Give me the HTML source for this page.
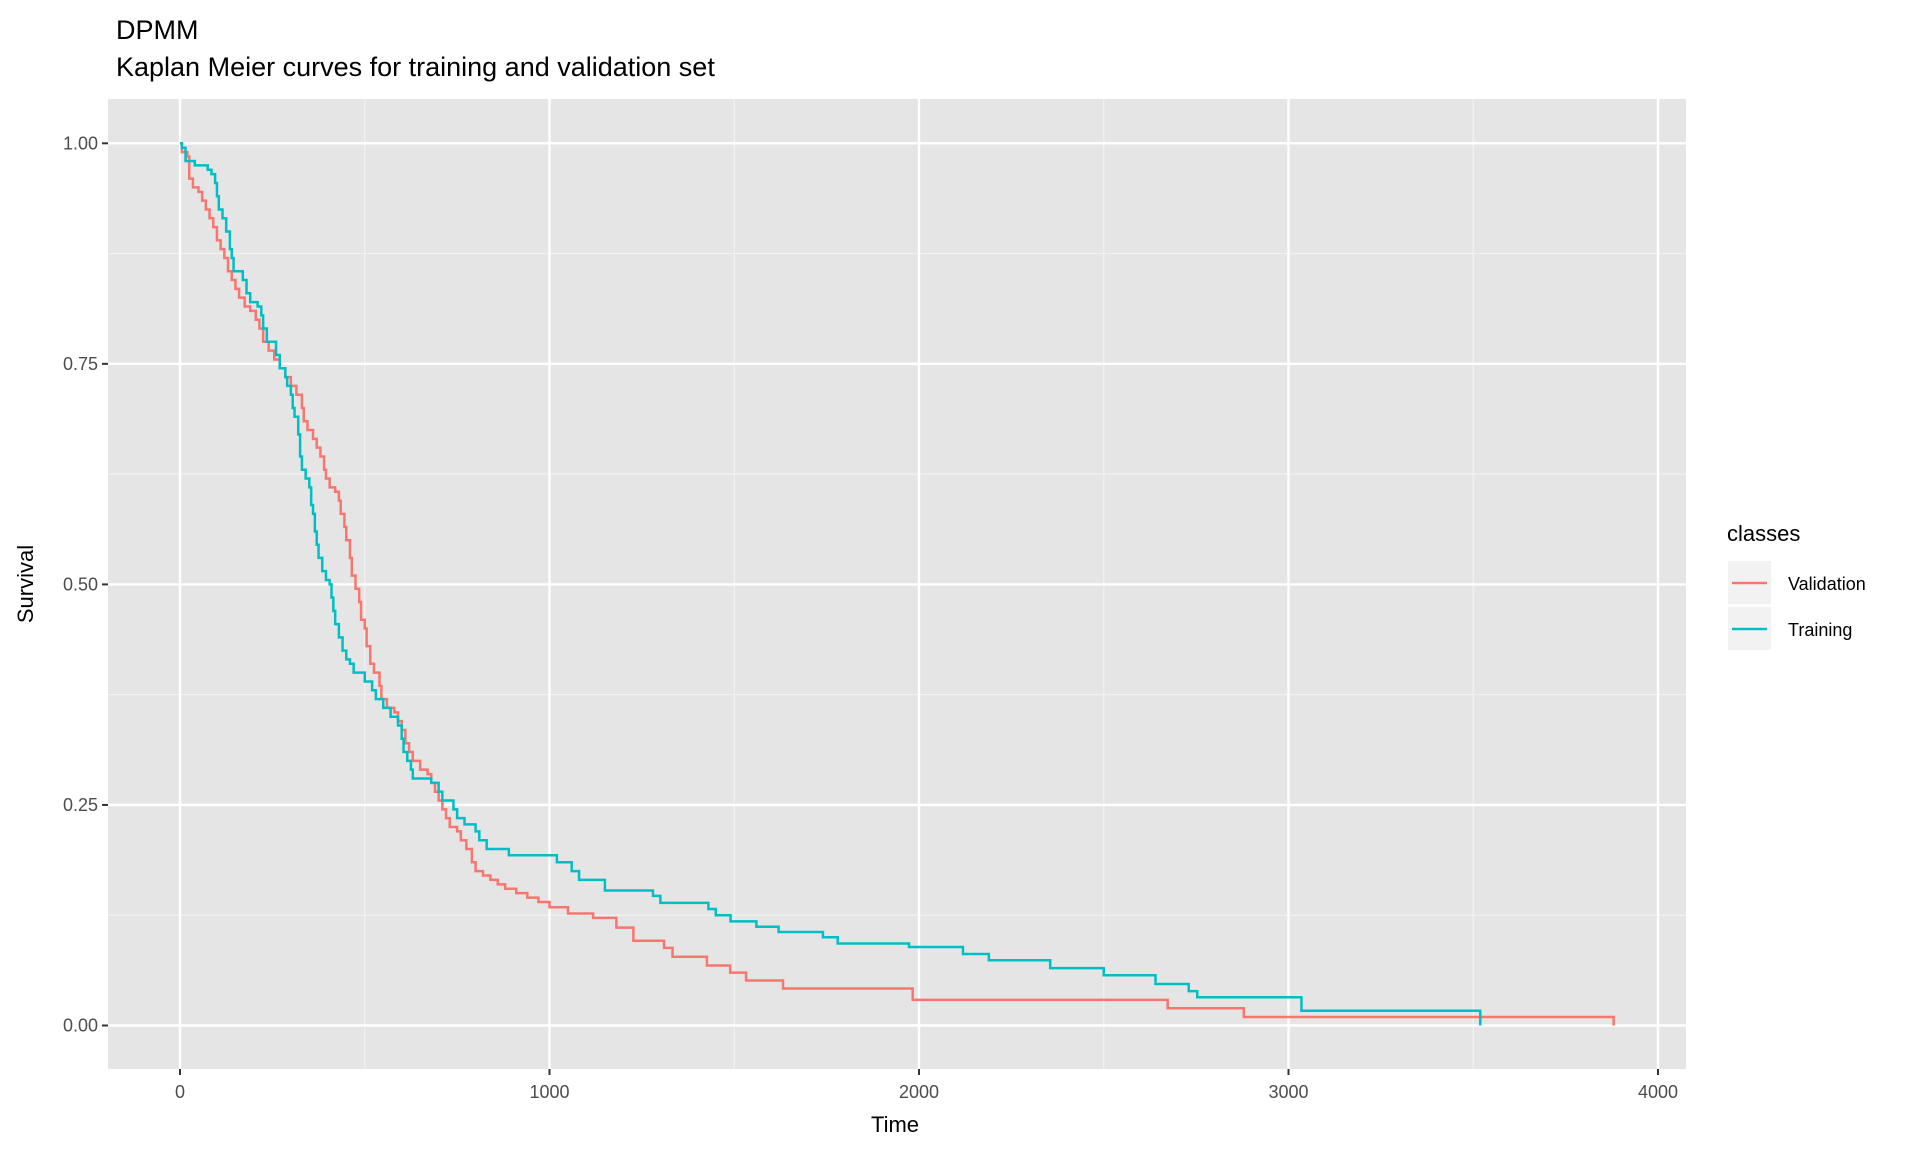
<!DOCTYPE html>
<html><head><meta charset="utf-8"><style>
body{margin:0;background:#fff;font-family:"Liberation Sans",Arial,sans-serif;}
svg text{font-family:"Liberation Sans",Arial,sans-serif;}
</style></head><body>
<svg id="chart" width="1920" height="1152" viewBox="0 0 1920 1152">
<rect width="1920" height="1152" fill="#fff"/>
<text x="116" y="39" font-size="27" fill="#000">DPMM</text>
<text x="116" y="76" font-size="27" fill="#000">Kaplan Meier curves for training and validation set</text>
<rect x="108" y="99" width="1578" height="970" fill="#e5e5e5"/>
<g id="grid"></g><g id="series"></g><g id="axes"></g>
<text x="895" y="1132" font-size="22" text-anchor="middle">Time</text>
<text transform="translate(33,584) rotate(-90)" font-size="22" text-anchor="middle">Survival</text>
<g>
<text x="1727" y="541" font-size="22">classes</text>
<rect x="1728" y="561" width="43" height="43" fill="#f2f2f2"/>
<line x1="1732" y1="583" x2="1767" y2="583" stroke="#F8766D" stroke-width="2.5"/>
<text x="1788" y="590" font-size="18">Validation</text>
<rect x="1728" y="607" width="43" height="43" fill="#f2f2f2"/>
<line x1="1732" y1="629" x2="1767" y2="629" stroke="#00BFC4" stroke-width="2.5"/>
<text x="1788" y="636" font-size="18">Training</text>
</g>
</svg>
<script>
const xTicks=[0,1000,2000,3000,4000];
const yTicks=[0,0.25,0.5,0.75,1];
const yTickLabels=["0.00","0.25","0.50","0.75","1.00"];
const valTimes=[0,5,20,25,35,50,60,70,80,90,100,110,120,130,140,150,160,175,190,205,215,225,240,255,270,285,300,315,330,335,345,360,370,380,390,395,405,420,430,435,445,450,460,465,475,485,490,500,505,515,525,540,545,560,580,590,600,610,620,630,650,670,680,690,700,710,720,730,750,760,775,790,800,820,840,860,880,910,940,970,1000,1050,1118,1181,1227,1310,1333,1426,1489,1532,1632,1983,2673,2879,3880];
const valSurv=[1,0.99,0.985,0.96,0.95,0.945,0.935,0.925,0.915,0.905,0.89,0.88,0.87,0.855,0.845,0.835,0.825,0.815,0.81,0.8,0.79,0.775,0.765,0.755,0.745,0.735,0.725,0.715,0.7,0.685,0.675,0.665,0.655,0.645,0.63,0.62,0.61,0.605,0.595,0.58,0.565,0.55,0.53,0.51,0.495,0.48,0.46,0.45,0.43,0.41,0.4,0.385,0.37,0.36,0.355,0.345,0.335,0.32,0.31,0.3,0.29,0.285,0.275,0.265,0.255,0.245,0.235,0.225,0.22,0.21,0.2,0.185,0.175,0.17,0.165,0.16,0.155,0.15,0.145,0.14,0.134,0.127,0.122,0.111,0.096,0.088,0.078,0.068,0.06,0.051,0.042,0.029,0.0195,0.0097,0];
const trnTimes=[0,5,15,40,75,85,95,100,105,115,125,135,140,145,170,180,190,210,220,225,235,260,270,285,290,300,305,310,320,325,330,340,350,355,360,365,370,375,385,395,405,410,415,420,430,440,450,460,470,500,520,530,550,570,590,600,605,615,625,630,680,700,710,740,750,770,800,810,830,890,1020,1060,1080,1150,1280,1300,1430,1450,1490,1560,1620,1740,1780,1973,2119,2189,2355,2500,2640,2730,2753,3035,3519];
const trnSurv=[1,0.995,0.98,0.975,0.97,0.965,0.955,0.94,0.925,0.915,0.9,0.88,0.87,0.855,0.845,0.83,0.82,0.815,0.805,0.79,0.775,0.76,0.745,0.735,0.725,0.715,0.7,0.69,0.67,0.645,0.63,0.62,0.61,0.59,0.58,0.56,0.545,0.53,0.515,0.505,0.5,0.485,0.47,0.455,0.44,0.425,0.415,0.41,0.4,0.39,0.38,0.37,0.36,0.35,0.34,0.325,0.31,0.3,0.29,0.28,0.275,0.265,0.255,0.245,0.235,0.228,0.22,0.21,0.2,0.193,0.185,0.175,0.165,0.153,0.147,0.139,0.132,0.125,0.118,0.112,0.106,0.1,0.093,0.089,0.081,0.074,0.065,0.057,0.047,0.039,0.032,0.0167,0];
const NS="http://www.w3.org/2000/svg";
const X=t=>180+t*0.3695;
const Y=s=>1025.5-s*882.2;
function mk(tag,attrs,parent){const e=document.createElementNS(NS,tag);for(const k in attrs)e.setAttribute(k,attrs[k]);parent.appendChild(e);return e;}
const grid=document.getElementById('grid'),axes=document.getElementById('axes'),series=document.getElementById('series');
for(let i=0;i<xTicks.length-1;i++){const t=(xTicks[i]+xTicks[i+1])/2;const l=mk('line',{x1:X(t),x2:X(t),y1:99,y2:1069,stroke:'#f2f2f2','stroke-width':1.2},grid);

}
for(let i=0;i<yTicks.length-1;i++){const s=(yTicks[i]+yTicks[i+1])/2;const l=mk('line',{x1:108,x2:1686,y1:Y(s),y2:Y(s),stroke:'#f2f2f2','stroke-width':1.2},grid);

}
xTicks.forEach(t=>{const l=mk('line',{x1:X(t),x2:X(t),y1:99,y2:1069,stroke:'#fff','stroke-width':2.4},grid);


mk('line',{x1:X(t),x2:X(t),y1:1069,y2:1075,stroke:'#333','stroke-width':2},axes);
const tx=mk('text',{x:X(t),y:1098,'font-size':18,fill:'#4d4d4d','text-anchor':'middle'},axes);tx.textContent=t;

});
yTicks.forEach((s,i)=>{const l=mk('line',{x1:108,x2:1686,y1:Y(s),y2:Y(s),stroke:'#fff','stroke-width':2.4},grid);


mk('line',{x1:102,x2:108,y1:Y(s),y2:Y(s),stroke:'#333','stroke-width':2},axes);
const tx=mk('text',{x:98,y:Y(s)+6,'font-size':18,fill:'#4d4d4d','text-anchor':'end'},axes);tx.textContent=yTickLabels[i];

});
function stepPath(ts,ss){let d='M'+X(ts[0])+','+Y(ss[0]);for(let i=1;i<ts.length;i++){d+=' H'+X(ts[i])+' V'+Y(ss[i]);}return d;}
const pv=mk('path',{d:stepPath(valTimes,valSurv),fill:'none',stroke:'#F8766D','stroke-width':2.5},series);


const pt=mk('path',{d:stepPath(trnTimes,trnSurv),fill:'none',stroke:'#00BFC4','stroke-width':2.5},series);


</script>
</body></html>
